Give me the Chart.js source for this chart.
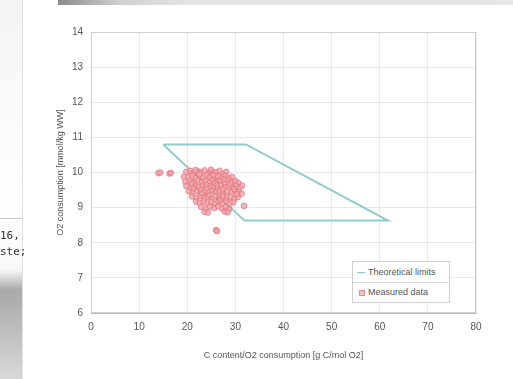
<!DOCTYPE html>
<html>
<head>
<meta charset="utf-8">
<script src="https://cdn.jsdelivr.net/npm/chart.js@4/dist/chart.umd.min.js"></script>
<style>
  html, body { margin: 0; padding: 0; background: #fff; }
  #wrap { position: relative; width: 513px; height: 379px; overflow: hidden; background: #fff; }
  #box { position: absolute; left: 0; top: 0; width: 513px; height: 379px; }
  #topbar { position: absolute; left: 58px; top: 0; width: 455px; height: 5px;
    background: linear-gradient(90deg, #8a8a8a 0px, #cfcfcf 60px, #e2e2e2 120px, #e6e6e6 100%); }
  #leftstrip { position: absolute; left: 0; top: 0; width: 22px; height: 379px;
    background: linear-gradient(180deg, #f4f4f4 0px, #ffffff 200px, #f8f8f8 270px, #a8a8a8 290px, #d8d8d8 379px);
    border-right: 1px solid #e0e0e0; font-family: "DejaVu Sans Mono", monospace; font-size: 11px; color: #333; }
  #leftstrip .ln { position: absolute; left: 0; top: 218px; width: 22px; height: 1px; background: #c8c8c8; }
  #leftstrip span { position: absolute; left: 0; white-space: nowrap; }
  #legend { position: absolute; left: 352px; top: 261px; width: 96px; height: 40px;
    border: 1px solid #cfcfcf; background: #fff; font-family: "Liberation Sans", Arial, sans-serif;
    font-size: 9px; color: #555; }
  #legend .row { position: absolute; left: 0; width: 96px; height: 20px; line-height: 20px; }
  #legend .sep { position: absolute; left: 0; top: 20px; width: 96px; height: 1px; background: #d8d8d8; }
  #legend .sw-line { position: absolute; left: 4px; top: 10px; width: 8px; height: 1px; background: #8cc8c8; }
  #legend .sw-pt { position: absolute; left: 6px; top: 8px; width: 4px; height: 4px; border: 1px solid #e88a92; background: #f6c4c6; }
  #legend .tx { position: absolute; left: 15px; }
</style>
</head>
<body>
<div id="wrap">
  <div id="box"><canvas id="c"></canvas></div>
  <div id="topbar"></div>
  <div id="leftstrip"><div class="ln"></div><span style="top:229px">16,</span><span style="top:245px">ste;</span></div>
  <div id="legend">
    <div class="row" style="top:0"><div class="sw-line"></div><span class="tx">Theoretical limits</span></div>
    <div class="sep"></div>
    <div class="row" style="top:20px"><div class="sw-pt"></div><span class="tx">Measured data</span></div>
  </div>
</div>
<script>
// ---- data ----
const xTicks = [0, 10, 20, 30, 40, 50, 60, 70, 80];
const yTicks = [6, 7, 8, 9, 10, 11, 12, 13, 14];
const seriesNames = ["Theoretical limits", "Measured data"];
const xAxisTitle = "C content/O2 consumption [g C/mol O2]";
const yAxisTitle = "O2 consumption [mmol/kg WW]";

// theoretical limits polygon (closed)
const limitX = [15.0, 32.2, 61.7, 31.9, 15.0];
const limitY = [10.8, 10.8, 8.63, 8.63, 10.8];

// measured data
const measuredX = [
  19.8, 20.6, 21.3, 22.1, 22.9, 23.6, 24.4, 25.2, 26.0, 26.7, 27.5, 28.1, 24.9, 21.7,
  19.3, 20.2, 21.0, 21.8, 22.6, 23.3, 24.1, 24.8, 25.6, 26.4, 27.1, 27.9, 28.6, 29.3,
  19.6, 20.5, 21.4, 22.2, 23.0, 23.8, 24.6, 25.3, 26.1, 26.9, 27.7, 28.4, 29.2, 30.0, 30.6,
  19.8, 20.7, 21.6, 22.4, 23.2, 24.0, 24.8, 25.5, 26.3, 27.0, 27.8, 28.6, 29.4, 30.2, 30.9, 31.4,
  20.3, 21.1, 22.0, 22.8, 23.6, 24.4, 25.2, 26.0, 26.7, 27.5, 28.3, 29.1, 29.9, 30.7, 31.3,
  21.0, 21.9, 22.7, 23.5, 24.3, 25.1, 25.9, 26.6, 27.4, 28.2, 29.0, 29.8, 30.5,
  21.8, 22.6, 23.4, 24.2, 25.0, 25.8, 26.5, 27.3, 28.1, 28.9, 29.6,
  22.9, 23.8, 24.7, 25.6, 26.4, 27.2, 28.0, 28.7,
  23.6, 24.3, 27.8, 28.4,
  14.0, 14.4, 16.3, 16.6, 26.0, 26.2, 31.8,
  22.5, 23.9, 25.7, 27.4, 24.6, 26.9, 21.3, 28.9, 29.7, 30.3, 20.9, 22.9, 25.4, 27.6, 23.1, 26.2
];
const measuredY = [
  10.02, 10.05, 9.98, 10.04, 10.01, 10.06, 9.97, 10.03, 10.00, 10.05, 9.96, 10.02, 10.08, 10.07,
  9.88, 9.86, 9.91, 9.84, 9.89, 9.85, 9.92, 9.87, 9.83, 9.90, 9.86, 9.91, 9.84, 9.88,
  9.74, 9.77, 9.72, 9.78, 9.73, 9.76, 9.71, 9.79, 9.74, 9.77, 9.72, 9.78, 9.73, 9.76, 9.70,
  9.62, 9.58, 9.64, 9.59, 9.63, 9.57, 9.62, 9.60, 9.56, 9.63, 9.58, 9.61, 9.57, 9.62, 9.58, 9.63,
  9.47, 9.43, 9.48, 9.44, 9.46, 9.42, 9.48, 9.44, 9.47, 9.41, 9.46, 9.43, 9.48, 9.44, 9.40,
  9.32, 9.28, 9.33, 9.27, 9.31, 9.26, 9.32, 9.28, 9.33, 9.27, 9.31, 9.26, 9.30,
  9.17, 9.13, 9.18, 9.12, 9.16, 9.11, 9.17, 9.13, 9.18, 9.12, 9.15,
  9.02, 8.97, 9.03, 8.99, 9.04, 8.98, 9.01, 8.96,
  8.88, 8.86, 8.89, 8.87,
  9.98, 10.00, 9.97, 9.99, 8.36, 8.33, 9.05,
  9.95, 9.66, 9.70, 9.52, 9.36, 9.22, 9.55, 9.68, 9.53, 9.38, 9.69, 9.52, 9.93, 9.80, 9.40, 9.64
];

// ---- chart ----
const limitPts = limitX.map((x, i) => ({ x: x, y: limitY[i] }));
const measuredPts = measuredX.map((x, i) => ({ x: x, y: measuredY[i] }));
const tickFont = { family: "'Liberation Sans', Arial, sans-serif", size: 10 };
const titleFont = { family: "'Liberation Sans', Arial, sans-serif", size: 9 };

new Chart(document.getElementById('c'), {
  type: 'scatter',
  data: {
    datasets: [
      {
        label: seriesNames[0],
        data: limitPts,
        showLine: true,
        borderColor: 'rgba(140,200,202,0.95)',
        borderWidth: 2,
        pointRadius: 0,
        fill: false,
        tension: 0,
        order: 2
      },
      {
        label: seriesNames[1],
        data: measuredPts,
        pointStyle: 'circle',
        pointRadius: 2.8,
        borderWidth: 1,
        borderColor: 'rgba(226,118,128,0.8)',
        backgroundColor: 'rgba(240,160,166,0.75)',
        order: 1
      }
    ]
  },
  options: {
    responsive: true,
    maintainAspectRatio: false,
    animation: false,
    layout: { padding: { left: 0, top: 32, right: 37, bottom: 0 } },
    plugins: { legend: { display: false }, tooltip: { enabled: false } },
    scales: {
      x: {
        type: 'linear', min: xTicks[0], max: xTicks[xTicks.length - 1],
        afterBuildTicks: (s) => { s.ticks = xTicks.map(v => ({ value: v })); },
        afterFit: (s) => { s.height = 66; },
        grid: { color: '#e8e8e8', tickLength: 0, drawTicks: false },
        border: { color: '#bdbdbd', width: 1 },
        ticks: { color: '#555', font: tickFont, padding: 8, maxRotation: 0 },
        title: { display: true, text: xAxisTitle, color: '#555', font: titleFont, padding: { top: 4, bottom: 18 } }
      },
      y: {
        type: 'linear', min: yTicks[0], max: yTicks[yTicks.length - 1],
        afterBuildTicks: (s) => { s.ticks = yTicks.map(v => ({ value: v })); },
        afterFit: (s) => { s.width = 91; },
        grid: { color: '#e8e8e8', tickLength: 0, drawTicks: false },
        border: { color: '#bdbdbd', width: 1 },
        ticks: { color: '#555', font: tickFont, padding: 8 },
        title: { display: true, text: yAxisTitle, color: '#555', font: titleFont, padding: { top: 55, bottom: 0 } }
      }
    }
  },
  plugins: [{
    id: 'frame',
    afterDraw(chart) {
      const a = chart.chartArea, ctx = chart.ctx;
      ctx.save();
      ctx.strokeStyle = '#cfcfcf';
      ctx.lineWidth = 1;
      ctx.strokeRect(a.left + 0.5, a.top + 0.5, a.right - a.left - 1, a.bottom - a.top - 1);
      ctx.restore();
    }
  }]
});
</script>
</body>
</html>
